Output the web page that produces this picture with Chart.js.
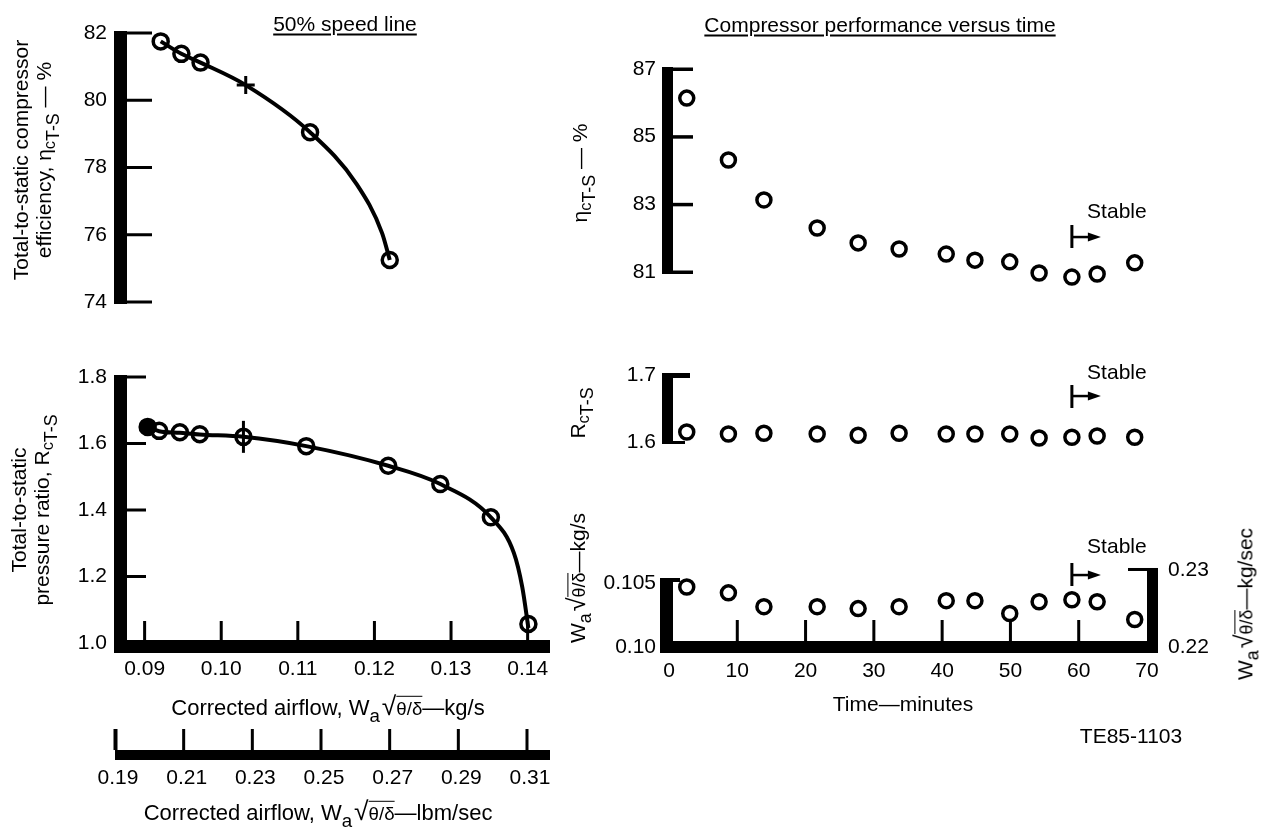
<!DOCTYPE html>
<html>
<head>
<meta charset="utf-8">
<script src="https://cdn.jsdelivr.net/npm/chart.js@4.4.1/dist/chart.umd.min.js"></script>
<style>
  html, body { margin: 0; padding: 0; background: #fff; }
  #page { position: relative; width: 1261px; height: 830px; overflow: hidden;
          font-family: "Liberation Sans", Arial, sans-serif; color: #000; }
  canvas { position: absolute; left: 0; top: 0; }
  .t { position: absolute; white-space: nowrap; font-size: 21px; line-height: 1;
       transform: translate(-50%, -50%); text-align: center; }
  .r { transform: translate(-50%, -50%) rotate(-90deg); }
  .u { text-decoration: underline; text-underline-offset: 3px; }
  .two { line-height: 23px; }
  .s1 { font-size: .78em; position: relative; top: .25em; }
  .s2 { font-size: .85em; position: relative; top: .45em; }
  .sa { font-size: .85em; position: relative; top: .35em; }
  .rt { font-size: 1.2em; margin-left: 2px; }
  .ov { font-size: .85em; border-top: 1.5px solid #000; padding-top: 1px; }
  .big { font-size: 22px; }
</style>
</head>
<body>
<div id="page">
  <canvas id="cEff" width="1261" height="830"></canvas>
  <canvas id="cPr" width="1261" height="830"></canvas>
  <canvas id="cLbm" width="1261" height="830"></canvas>
  <canvas id="cEffT" width="1261" height="830"></canvas>
  <canvas id="cPrT" width="1261" height="830"></canvas>
  <canvas id="cFlowT" width="1261" height="830"></canvas>

  <div class="t u" style="left:345px;top:23px">50% speed line</div>
  <div class="t u" style="left:880px;top:24px">Compressor performance versus time</div>

  <div class="t r two" style="left:33px;top:160px">Total-to-static compressor<br>efficiency, &eta;<span class="s1">c</span><span class="s2">T-S</span> &mdash; %</div>
  <div class="t r two" style="left:31px;top:510px">Total-to-static<br>pressure ratio, R<span class="s1">c</span><span class="s2">T-S</span></div>
  <div class="t big" style="left:328px;top:706px">Corrected airflow, W<span class="sa">a</span><span class="rt">&radic;</span><span class="ov">&theta;/&delta;</span>&mdash;kg/s</div>
  <div class="t big" style="left:318px;top:811px">Corrected airflow, W<span class="sa">a</span><span class="rt">&radic;</span><span class="ov">&theta;/&delta;</span>&mdash;lbm/sec</div>

  <div class="t r" style="left:580px;top:173px">&eta;<span class="s1">c</span><span class="s2">T-S</span> &mdash; %</div>
  <div class="t r" style="left:578px;top:413px">R<span class="s1">c</span><span class="s2">T-S</span></div>
  <div class="t r" style="left:577px;top:578px">W<span class="sa">a</span><span class="rt">&radic;</span><span class="ov">&theta;/&delta;</span>&mdash;kg/s</div>
  <div class="t r" style="left:1244px;top:604px">W<span class="sa">a</span><span class="rt">&radic;</span><span class="ov">&theta;/&delta;</span>&mdash;kg/sec</div>
  <div class="t" style="left:903px;top:703px">Time&mdash;minutes</div>
  <div class="t" style="left:1131px;top:735px">TE85-1103</div>
</div>

<script>
// ---- 50% speed line (kg/s) ----
const flowEff      = [0.0921, 0.0948, 0.0973, 0.1116, 0.1220];
const effSpeed     = [81.75, 81.38, 81.12, 79.05, 75.25];
const flowEffCross = [0.1032];
const effCross     = [80.45];
const effCurveFlow = [0.0921, 0.0948, 0.0973, 0.1032, 0.1116, 0.1177, 0.1210, 0.1220];
const effCurveVal  = [81.75, 81.38, 81.12, 80.45, 79.05, 77.5, 76.05, 75.25];

const flowPr       = [0.0919, 0.0946, 0.0972, 0.1111, 0.1218, 0.1286, 0.1352, 0.1401];
const prSpeed      = [1.638, 1.634, 1.628, 1.592, 1.533, 1.478, 1.378, 1.057];
const flowPrFilled = [0.0904];
const prFilled     = [1.650];
const flowPrCross  = [0.1029];
const prCross      = [1.620];
const prCurveFlow  = [0.0904, 0.0919, 0.0946, 0.0972, 0.1029, 0.1111, 0.1218, 0.1286, 0.1352, 0.1382, 0.1393, 0.1401];
const prCurveVal   = [1.650, 1.637, 1.632, 1.627, 1.620, 1.592, 1.533, 1.478, 1.378, 1.271, 1.168, 1.045];

// ---- performance versus time ----
const timeMin   = [2.6, 8.7, 13.9, 21.7, 27.7, 33.7, 40.6, 44.8, 49.9, 54.2, 59.0, 62.7, 68.2];
const effTime   = [86.14, 84.31, 83.13, 82.30, 81.86, 81.68, 81.53, 81.35, 81.30, 80.97, 80.85, 80.94, 81.27];
const prTime    = [1.615, 1.612, 1.613, 1.612, 1.610, 1.613, 1.612, 1.612, 1.612, 1.606, 1.607, 1.609, 1.607];
const flowTime  = [0.10469, 0.10423, 0.10315, 0.10315, 0.10300, 0.10315, 0.10362, 0.10362, 0.10262, 0.10354, 0.10369, 0.10354, 0.10215];
const stableAt  = 59.0;

// ---- tick values and labels ----
const effTicks      = [74, 76, 78, 80, 82];
const effLabels     = ['74', '76', '78', '80', '82'];
const prTicks       = [1.0, 1.2, 1.4, 1.6, 1.8];
const prLabels      = ['1.0', '1.2', '1.4', '1.6', '1.8'];
const flowTicks     = [0.09, 0.10, 0.11, 0.12, 0.13, 0.14];
const flowLabels    = ['0.09', '0.10', '0.11', '0.12', '0.13', '0.14'];
const lbmTicks      = [0.19, 0.21, 0.23, 0.25, 0.27, 0.29, 0.31];
const lbmLabels     = ['0.19', '0.21', '0.23', '0.25', '0.27', '0.29', '0.31'];
const timeTicks     = [0, 10, 20, 30, 40, 50, 60, 70];
const timeLabels    = ['0', '10', '20', '30', '40', '50', '60', '70'];
const effTimeTicks  = [81, 83, 85, 87];
const effTimeLabels = ['81', '83', '85', '87'];
const prTimeTicks   = [1.6, 1.7];
const prTimeLabels  = ['1.6', '1.7'];
const flowTimeTicks = [0.10, 0.105];
const flowTimeLabels= ['0.10', '0.105'];
const lbmTimeTicks  = [0.22, 0.23];
const lbmTimeLabels = ['0.22', '0.23'];

const W = 1261, H = 830;
const FONT = '21px "Liberation Sans", Arial, sans-serif';

const pts = (xs, ys) => xs.map((x, i) => ({ x, y: ys[i] }));
const rings = (xs, ys, r, extra) => Object.assign({
  data: pts(xs, ys), showLine: false, pointStyle: 'circle', pointRadius: r || 7,
  borderColor: '#000', borderWidth: 3.5, backgroundColor: 'rgba(0,0,0,0)', clip: false
}, extra || {});
const curve = (xs, ys) => ({
  data: pts(xs, ys), showLine: true, pointRadius: 0, borderColor: '#000', borderWidth: 4,
  cubicInterpolationMode: 'monotone', fill: false, clip: false
});

function txt(c, s, x, y, align) {
  c.textAlign = align || 'center';
  c.textBaseline = 'middle';
  c.fillText(s, x, y);
}

function stable(c, sx, top, arrowY, textY) {
  c.fillRect(sx - 1.5, top, 3, 23);
  c.fillRect(sx, arrowY - 1.2, 20, 2.5);
  c.beginPath();
  c.moveTo(sx + 29, arrowY);
  c.lineTo(sx + 16, arrowY - 4.5);
  c.lineTo(sx + 16, arrowY + 4.5);
  c.closePath();
  c.fill();
  txt(c, 'Stable', sx + 45, textY);
}

function panel(id, area, xr, yr, datasets, decor, y2r) {
  const scales = {
    x: { type: 'linear', display: false, min: xr[0], max: xr[1] },
    y: { type: 'linear', display: false, min: yr[0], max: yr[1] }
  };
  if (y2r) scales.y2 = { type: 'linear', display: false, position: 'right', min: y2r[0], max: y2r[1] };
  return new Chart(document.getElementById(id), {
    type: 'scatter',
    data: { datasets },
    options: {
      responsive: false, animation: false, events: [],
      layout: { padding: { left: area[0], top: area[1], right: W - area[2], bottom: H - area[3] } },
      plugins: { legend: { display: false }, tooltip: { enabled: false } },
      scales
    },
    plugins: [{
      id: 'decor',
      afterDatasetsDraw(chart) {
        const c = chart.ctx;
        c.save();
        c.fillStyle = '#000';
        c.font = FONT;
        decor(c, chart.scales);
        c.restore();
      }
    }]
  });
}

// left x range shared by both speed-line panels
const flowRange = [0.0877, 0.14292];

// efficiency vs airflow
panel('cEff', [127, 33, 550, 302], flowRange, [74, 82], [
  curve(effCurveFlow, effCurveVal),
  rings(flowEff, effSpeed, 7.5),
  { data: pts(flowEffCross, effCross), showLine: false, pointStyle: 'cross', pointRadius: 9,
    borderColor: '#000', borderWidth: 3, clip: false }
], (c, s) => {
  const y = v => s.y.getPixelForValue(v);
  c.fillRect(114, y(82) - 2, 13, y(74) - y(82) + 4);
  effTicks.forEach((v, i) => {
    c.fillRect(127, y(v) - 1.5, 25, 3);
    txt(c, effLabels[i], 107, y(v), 'right');
  });
});

// pressure ratio vs airflow
panel('cPr', [127, 377, 550, 643], flowRange, [1.0, 1.8], [
  curve(prCurveFlow, prCurveVal),
  rings(flowPr, prSpeed, 7.5),
  rings(flowPrFilled, prFilled, 7.5, { backgroundColor: '#000' }),
  rings(flowPrCross, prCross, 7.5),
  { data: pts(flowPrCross, prCross), showLine: false, pointStyle: 'line', pointRotation: 90,
    pointRadius: 16, borderColor: '#000', borderWidth: 3, clip: false }
], (c, s) => {
  const x = v => s.x.getPixelForValue(v);
  const y = v => s.y.getPixelForValue(v);
  c.fillRect(114, y(1.8) - 2, 13, 653 - y(1.8) + 2);
  c.fillRect(114, 640, 550 - 114, 13);
  prTicks.forEach((v, i) => {
    if (v > 1.0) c.fillRect(127, y(v) - 1.5, 19, 3);
    txt(c, prLabels[i], 107, y(v), 'right');
  });
  flowTicks.forEach((v, i) => {
    c.fillRect(x(v) - 1.5, 621, 3, 19);
    txt(c, flowLabels[i], x(v), 669);
  });
});

// second airflow axis in lbm/sec
panel('cLbm', [115, 700, 550, 750], [0.19, 0.3167], [0, 1], [], (c, s) => {
  const x = v => s.x.getPixelForValue(v);
  c.fillRect(115, 750, 550 - 115, 10);
  lbmTicks.forEach((v, i) => {
    c.fillRect(x(v) - 1.5, 729, i === 0 ? 4 : 3, 21);
    txt(c, lbmLabels[i], x(v) + 3, 778);
  });
});

// shared time range for the right-hand panels
const timeRange = [0.586, 70.0];

// efficiency vs time
panel('cEffT', [673, 69, 1147, 272], timeRange, [81, 87], [
  rings(timeMin, effTime, 7)
], (c, s) => {
  const y = v => s.y.getPixelForValue(v);
  c.fillRect(662, y(87) - 2, 11, y(81) - y(87) + 4);
  effTimeTicks.forEach((v, i) => {
    c.fillRect(673, y(v) - 1.5, 20, 3.5);
    txt(c, effTimeLabels[i], 656, y(v), 'right');
  });
  stable(c, s.x.getPixelForValue(stableAt), 225, 237, 212);
});

// pressure ratio vs time
panel('cPrT', [673, 375, 1147, 442], timeRange, [1.6, 1.7], [
  rings(timeMin, prTime, 7)
], (c, s) => {
  const y = v => s.y.getPixelForValue(v);
  c.fillRect(662, y(1.7) - 2, 11, y(1.6) - y(1.7) + 4);
  c.fillRect(673, y(1.7) - 2, 17, 5);
  c.fillRect(673, y(1.6) - 1, 12, 3);
  prTimeTicks.forEach((v, i) => txt(c, prTimeLabels[i], 656, y(v), 'right'));
  stable(c, s.x.getPixelForValue(stableAt), 385, 396, 373);
});

// airflow vs time, kg/s left and second scale right
panel('cFlowT', [673, 583, 1147, 647], timeRange, [0.10, 0.105], [
  rings(timeMin, flowTime, 7)
], (c, s) => {
  const x = v => s.x.getPixelForValue(v);
  const y = v => s.y.getPixelForValue(v);
  const y2 = v => s.y2.getPixelForValue(v);
  c.fillRect(660, y(0.105) - 5, 13, 653 - y(0.105) + 5);
  c.fillRect(673, y(0.105) - 5, 7, 4);
  c.fillRect(660, 641, 1158 - 660, 12);
  c.fillRect(1147, y2(0.23) - 2, 11, 653 - y2(0.23) + 2);
  c.fillRect(1128, y2(0.23) - 2, 19, 3);
  timeTicks.forEach((v, i) => {
    if (v > 0 && v < 70) c.fillRect(x(v) - 1.5, 620, 3, 21);
    txt(c, timeLabels[i], x(v), 671);
  });
  flowTimeTicks.forEach((v, i) => txt(c, flowTimeLabels[i], 656, y(v), 'right'));
  lbmTimeTicks.forEach((v, i) => txt(c, lbmTimeLabels[i], 1168, y2(v), 'left'));
  stable(c, x(stableAt), 563, 575, 547);
}, [0.22, 0.22831]);
</script>
</body>
</html>
